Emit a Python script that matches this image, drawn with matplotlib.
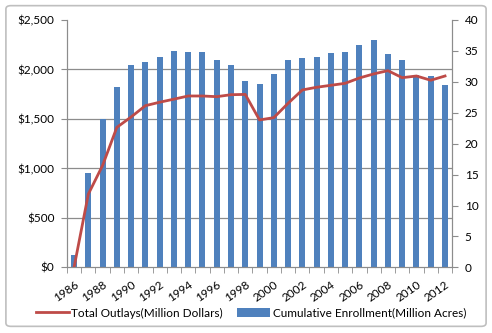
import matplotlib.pyplot as plt
from matplotlib.ticker import MultipleLocator, FuncFormatter
from matplotlib.patches import FancyBboxPatch, Patch
from matplotlib.lines import Line2D
import numpy as np

plt.rcParams['font.family'] = ['Lato', 'DejaVu Sans']

# Datos
years = list(range(1986, 2013))
enrollment = [2.0, 15.3, 24.0, 29.2, 32.7, 33.2, 34.0, 35.0, 34.9, 34.9,
              33.5, 32.7, 30.2, 29.7, 31.3, 33.5, 33.8, 34.0, 34.6, 34.8,
              35.9, 36.8, 34.5, 33.6, 31.1, 31.0, 29.5]
outlays = [0, 740, 1030, 1415, 1520, 1634, 1669, 1700, 1732, 1732,
           1725, 1745, 1748, 1490, 1513, 1658, 1793, 1820, 1840, 1860,
           1914, 1955, 1988, 1917, 1934, 1891, 1934]

blue = '#4F81BD'
red = '#BE4B48'
gray = '#8C8C8C'
fs = 8.5

fig = plt.figure(figsize=(4.92, 3.33), dpi=100)
fig.patches.append(FancyBboxPatch((0.012, 0.02), 0.976, 0.963, boxstyle='round,pad=0,rounding_size=0.01',
                                  transform=fig.transFigure, fill=False, edgecolor='#BFBFBF', linewidth=1.2))

ax = fig.add_axes([0.136, 0.197, 0.783, 0.743])
ax2 = ax.twinx()

x = np.arange(len(years))

# barras (eje derecho) en ax, linea (eje izquierdo) en ax2
ax.bar(x, enrollment, width=0.42, color=blue, zorder=2)
ax.set_ylim(0, 40)
ax.yaxis.tick_right()
ax.yaxis.set_label_position('right')
ax.yaxis.set_major_locator(MultipleLocator(5))
ax.yaxis.set_minor_locator(MultipleLocator(8))
ax.grid(True, which='minor', axis='y', color=gray, linewidth=0.9, zorder=0)
ax.tick_params(axis='y', which='minor', length=0)
ax.tick_params(axis='y', which='major', length=4, color=gray, labelsize=fs, pad=5)

ax2.plot(x, outlays, color=red, linewidth=2.0, zorder=3)
ax2.set_ylim(0, 2500)
ax2.yaxis.tick_left()
ax2.yaxis.set_major_locator(MultipleLocator(500))
ax2.yaxis.set_major_formatter(FuncFormatter(lambda v, p: '${:,.0f}'.format(v)))
ax2.tick_params(axis='y', length=4, color=gray, labelsize=fs, pad=5)

ax.set_xlim(-0.5, len(years) - 0.5)
ax.set_xticks(x[::2])
ax.set_xticklabels([str(y) for y in years[::2]], rotation=35, ha='right', rotation_mode='anchor', fontsize=fs)
ax.set_xticks(np.arange(len(years) + 1) - 0.5, minor=True)
ax.tick_params(axis='x', which='major', length=0, pad=8)
ax.tick_params(axis='x', which='minor', length=4, color=gray)

for a in (ax, ax2):
    a.spines['top'].set_visible(False)
    for s in ('left', 'right', 'bottom'):
        a.spines[s].set_color(gray)

handles = [Line2D([0], [0], color=red, linewidth=2.0),
           Patch(facecolor=blue)]
fig.legend(handles, ['Total Outlays(Million Dollars)', 'Cumulative Enrollment(Million Acres)'],
           loc='center', bbox_to_anchor=(0.51, 0.06), ncol=2, frameon=False, fontsize=fs,
           handlelength=2.8, handletextpad=0.2, columnspacing=1.2)

fig.savefig('out.png', dpi=100)
